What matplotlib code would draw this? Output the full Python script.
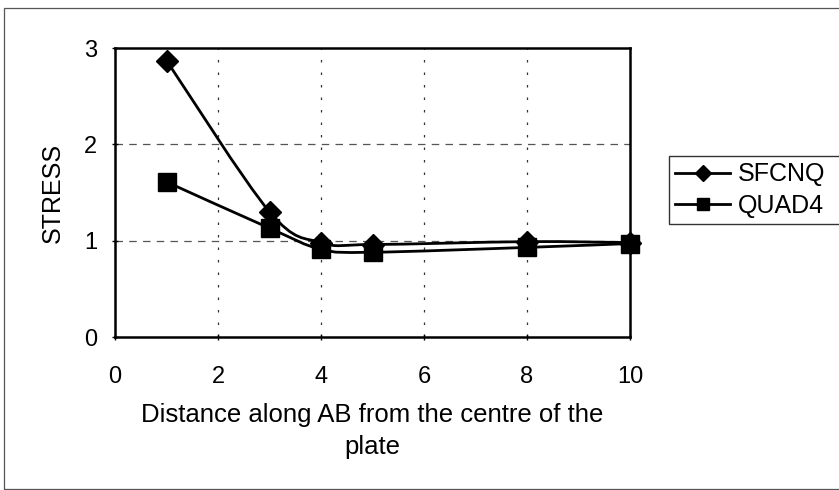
import numpy as np
import matplotlib
matplotlib.use("Agg")
import matplotlib.pyplot as plt
from matplotlib.path import Path
from matplotlib.patches import PathPatch, Rectangle
from matplotlib.lines import Line2D

plt.rcParams['font.family'] = ['Liberation Sans', 'DejaVu Sans']

# distance along AB and stress values for both element types
distance = [1, 3, 4, 5, 8, 10]
sfcnq = [2.87, 1.30, 0.98, 0.96, 0.99, 0.98]
quad4 = [1.61, 1.13, 0.91, 0.88, 0.93, 0.97]
series_names = ['SFCNQ', 'QUAD4']
xticks = [0, 2, 4, 6, 8, 10]
yticks = [0, 1, 2, 3]


def smooth_path(xs, ys):
    # cubic bezier through the points, spreadsheet-style smoothing
    pts = np.column_stack([xs, ys]).astype(float)
    n = len(pts)
    verts = [pts[0]]
    codes = [Path.MOVETO]
    for i in range(n - 1):
        p0 = pts[i - 1] if i > 0 else pts[i]
        p1 = pts[i]
        p2 = pts[i + 1]
        p3 = pts[i + 2] if i + 2 < n else pts[i + 1]
        c1 = p1 + (p2 - p0) / 6.0
        c2 = p2 - (p3 - p1) / 6.0
        verts += [c1, c2, p2]
        codes += [Path.CURVE4] * 3
    return Path(verts, codes)


fig = plt.figure(figsize=(8.39, 4.90), dpi=100)
ax = fig.add_axes([115 / 839, 1 - 337 / 490, 515 / 839, 289 / 490])

# outer chart frame
fig.patches.append(Rectangle((4 / 839, 1.5 / 490), 1.0, 480 / 490,
                             transform=fig.transFigure, fill=False,
                             edgecolor='#555555', linewidth=0.9))

ax.set_xlim(0, 10)
ax.set_ylim(0, 3)
ax.set_xticks(xticks)
ax.set_yticks(yticks)

for y in yticks[1:3]:
    ax.axhline(y, color='#555555', linewidth=0.9, linestyle=(0, (6, 5)), zorder=1)
for x in xticks[1:5]:
    ax.axvline(x, color='#333333', linewidth=0.9, linestyle=(0, (2, 8)), zorder=1)

for vals, marker, ms in [(sfcnq, 'D', 11), (quad4, 's', 12.5)]:
    ax.add_patch(PathPatch(smooth_path(distance, vals), fill=False,
                           edgecolor='black', linewidth=2.0, zorder=3))
    ax.plot(distance, vals, linestyle='none', marker=marker, markersize=ms,
            color='black', zorder=4, clip_on=False)

for s in ax.spines.values():
    s.set_linewidth(1.8)
ax.tick_params(direction='inout', length=5, width=1, labelsize=17)
ax.tick_params(axis='x', pad=18.5)
ax.tick_params(axis='y', pad=10.5)

ax.set_xlabel('Distance along AB from the centre of the\nplate', fontsize=18.5,
              labelpad=11, linespacing=1.4)
ax.set_ylabel('STRESS', fontsize=18, labelpad=14)

# legend box runs off the right edge of the figure
handles = [Line2D([], [], color='black', linewidth=2.0, marker='D', markersize=8),
           Line2D([], [], color='black', linewidth=2.0, marker='s', markersize=9)]
leg = fig.legend(handles, series_names, loc='upper left',
                 bbox_to_anchor=(669 / 839, 1 - 156 / 490, 0.23, 0.0),
                 bbox_transform=fig.transFigure, borderaxespad=0, mode='expand',
                 fontsize=18, fancybox=False, frameon=True,
                 handlelength=2.2, handletextpad=0.3, borderpad=0.25,
                 labelspacing=0.3)
leg.get_frame().set_edgecolor('black')
leg.get_frame().set_linewidth(1.0)

fig.savefig('out.png', dpi=100)
